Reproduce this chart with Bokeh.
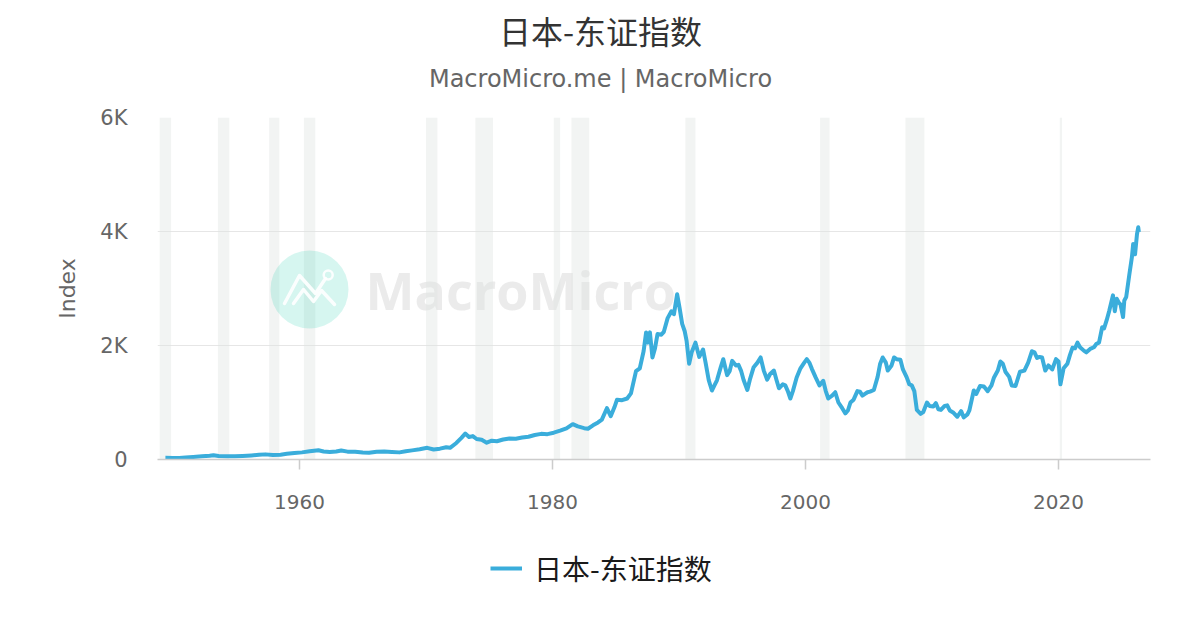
from bokeh.plotting import figure
from bokeh.layouts import column
from bokeh.models import FixedTicker, Label, Legend, LegendItem, Range1d
from bokeh.core.properties import value
from bokeh.embed import file_html
from bokeh.resources import INLINE

# ---------------- data ----------------
TITLE = "日本-东证指数"
SUBTITLE = "MacroMicro.me | MacroMicro"
SERIES_NAME = "日本-东证指数"
Y_AXIS_LABEL = "Index"
WATERMARK = "MacroMicro"

years = [
    1949.4, 1950.0, 1950.5, 1951.0, 1951.6, 1952.3, 1952.9, 1953.2, 1953.6, 1954.3,
    1954.9, 1955.5, 1956.2, 1956.8, 1957.3, 1957.9, 1958.5, 1959.0, 1959.6, 1960.2,
    1960.8, 1961.5, 1961.9, 1962.4, 1962.9, 1963.3, 1963.8, 1964.4, 1965.0, 1965.5,
    1966.1, 1966.7, 1967.3, 1967.9, 1968.4, 1968.9, 1969.5, 1970.1, 1970.6, 1971.1,
    1971.6, 1971.9, 1972.4, 1972.8, 1973.1, 1973.4, 1973.7, 1974.0, 1974.4, 1974.8,
    1975.2, 1975.6, 1976.1, 1976.6, 1977.1, 1977.6, 1978.1, 1978.6, 1979.1, 1979.6,
    1980.1, 1980.6, 1981.1, 1981.6, 1982.0, 1982.5, 1982.8, 1983.2, 1983.6, 1983.9,
    1984.3, 1984.6, 1984.9, 1985.1, 1985.5, 1985.9, 1986.2, 1986.6, 1986.9, 1987.2,
    1987.4, 1987.55, 1987.7, 1987.9, 1988.1, 1988.3, 1988.6, 1988.8, 1989.1, 1989.4,
    1989.6, 1989.85, 1990.05, 1990.25, 1990.45, 1990.6, 1990.8, 1991.0, 1991.3, 1991.6,
    1991.9, 1992.1, 1992.35, 1992.6, 1992.8, 1993.0, 1993.3, 1993.5, 1993.8, 1994.0,
    1994.2, 1994.5, 1994.7, 1994.9, 1995.1, 1995.4, 1995.6, 1995.9, 1996.2, 1996.45,
    1996.7, 1996.97, 1997.2, 1997.5, 1997.7, 1997.9, 1998.2, 1998.4, 1998.6, 1998.8,
    1999.0, 1999.3, 1999.6, 1999.9, 2000.1, 2000.3, 2000.5, 2000.8, 2001.1, 2001.4,
    2001.6, 2001.8, 2002.1, 2002.35, 2002.6, 2002.9, 2003.15, 2003.35, 2003.55, 2003.8,
    2004.1, 2004.3, 2004.5, 2004.7, 2004.9, 2005.1, 2005.4, 2005.7, 2005.9, 2006.1,
    2006.35, 2006.5, 2006.8, 2007.0, 2007.2, 2007.5, 2007.7, 2008.0, 2008.2, 2008.4,
    2008.6, 2008.8, 2009.1, 2009.3, 2009.6, 2009.8, 2010.1, 2010.3, 2010.5, 2010.7,
    2011.0, 2011.2, 2011.4, 2011.7, 2012.0, 2012.3, 2012.5, 2012.8, 2012.95, 2013.3,
    2013.5, 2013.8, 2014.1, 2014.4, 2014.7, 2014.9, 2015.2, 2015.4, 2015.6, 2015.8,
    2016.1, 2016.3, 2016.6, 2016.95, 2017.3, 2017.6, 2017.9, 2018.1, 2018.3, 2018.5,
    2018.7, 2018.95, 2019.2, 2019.5, 2019.8, 2020.0, 2020.15, 2020.4, 2020.7, 2020.9,
    2021.1, 2021.3, 2021.5, 2021.7, 2022.0, 2022.2, 2022.5, 2022.8, 2023.0, 2023.2,
    2023.45, 2023.6, 2023.8, 2024.0, 2024.3, 2024.45, 2024.6, 2024.75, 2024.9, 2025.1,
    2025.2, 2025.35, 2025.6, 2025.8, 2025.9, 2026.05, 2026.2, 2026.3, 2026.35,
]
topix = [
    30, 28, 25, 35, 45, 55, 65, 75, 60, 58,
    55, 62, 72, 82, 90, 78, 85, 100, 112, 125,
    145, 162, 140, 132, 140, 158, 138, 135, 122, 118,
    135, 140, 132, 125, 145, 160, 180, 205, 175, 190,
    215, 205, 290, 380, 455, 395, 410, 360, 345, 295,
    330, 320, 350, 370, 365, 385, 400, 430, 450, 445,
    470, 505, 545, 620, 580, 550, 540, 600, 650, 700,
    900, 760, 920, 1050, 1040, 1070, 1160, 1550, 1600, 1900,
    2230, 2050, 2230, 1790, 1950, 2200, 2190, 2240, 2480, 2600,
    2550, 2900, 2650, 2380, 2250, 2080, 1680, 1880, 2050, 1800,
    1930, 1700, 1390, 1210, 1300, 1390, 1620, 1760, 1480, 1550,
    1730, 1650, 1660, 1560, 1400, 1220, 1400, 1620, 1700, 1790,
    1560, 1400, 1500, 1560, 1400, 1250, 1320, 1300, 1200, 1070,
    1200, 1440, 1600, 1700, 1760, 1700, 1590, 1440, 1300, 1380,
    1200, 1070, 1120, 1180, 1000, 900, 810, 860, 1000, 1050,
    1200, 1190, 1120, 1150, 1180, 1190, 1220, 1450, 1680, 1790,
    1700, 1560, 1650, 1790, 1760, 1750, 1580, 1440, 1320, 1300,
    1200, 870, 800, 830, 1000, 940, 930, 990, 880, 870,
    940, 950, 860, 820, 750, 850, 740, 790, 860, 1210,
    1150, 1290, 1280, 1200, 1300, 1440, 1560, 1720, 1680, 1540,
    1450, 1300, 1290, 1540, 1560, 1700, 1900, 1880, 1780, 1800,
    1790, 1560, 1650, 1580, 1760, 1720, 1320, 1600, 1680, 1830,
    1960, 1950, 2050, 1970, 1910, 1880, 1940, 1970, 2030, 2050,
    2320, 2300, 2440, 2600, 2880, 2600, 2820, 2760, 2720, 2500,
    2790, 2850, 3250, 3550, 3780, 3600, 3950, 4075, 3990,
]

band_start = [1948.95, 1953.55, 1957.6, 1960.35, 1970.0, 1973.9, 1980.1, 1981.5,
              1990.5, 2001.15, 2007.9, 2020.1]
band_end = [1949.85, 1954.45, 1958.4, 1961.25, 1970.9, 1975.3, 1980.6, 1982.9,
            1991.3, 2001.9, 2009.4, 2020.28]

x_ticks = [1960, 1980, 2000, 2020]
y_ticks = [0, 2000, 4000, 6000]
y_tick_labels = ["0", "2K", "4K", "6K"]

# ---------------- layout (page pixels) ----------------
X0, X1 = 1948.775, 2027.27
Y0, Y1 = 0, 6000
FIG_W = 1192
FRAME_L, FRAME_R = 157, 1150
FRAME_T, FRAME_B = 117, 459
MAIN_TOP = 20
HEADER_H = FRAME_T - MAIN_TOP
MAIN_BOTTOM = 60
FRAME_W = FRAME_R - FRAME_L
FRAME_H = FRAME_B - FRAME_T
MAIN_H = MAIN_TOP + FRAME_H + MAIN_BOTTOM
STRIP_TOP = HEADER_H + MAIN_H
LEGEND_H = 622 - STRIP_TOP

LATIN = "DejaVu Sans"
CJK = "Noto Sans CJK SC"
LINE_COLOR = "#3aaddb"


def bare(fig):
    fig.outline_line_color = None
    fig.background_fill_color = "white"
    fig.border_fill_color = "white"
    fig.xgrid.visible = False
    fig.ygrid.visible = False
    return fig


# ---- header with title and subtitle (x in page pixels; frames are aligned in the column) ----
header = bare(figure(width=FIG_W, height=HEADER_H, x_range=Range1d(FRAME_L, FRAME_R),
                     y_range=Range1d(HEADER_H, 0), output_backend="svg",
                     toolbar_location=None, x_axis_location=None, y_axis_location=None,
                     min_border=0))
header.text(x=[600], y=[29], text=[TITLE], text_font=value(CJK), text_font_size="32px",
            text_color="#333333", text_align="center", text_baseline="middle")
header.text(x=[600], y=[78], text=[SUBTITLE], text_font=value(LATIN), text_font_size="24px",
            text_color="#666666", text_align="center", text_baseline="middle")

# ---- main chart ----
p = figure(width=FIG_W, height=MAIN_H, x_range=Range1d(X0, X1), y_range=Range1d(Y0, Y1),
           output_backend="svg", toolbar_location=None, title=None,
           min_border_left=FRAME_L, min_border_right=FIG_W - FRAME_R,
           min_border_top=MAIN_TOP, min_border_bottom=MAIN_BOTTOM)
p.outline_line_color = None
p.background_fill_color = "white"
p.border_fill_color = "white"

p.xgrid.visible = False
p.ygrid.ticker = FixedTicker(ticks=y_ticks)
p.ygrid.grid_line_color = "#e6e6e6"
p.ygrid.grid_line_width = 1

xa = p.xaxis[0]
xa.ticker = FixedTicker(ticks=x_ticks)
xa.axis_line_color = "#cccccc"
xa.axis_line_width = 1.5
xa.major_tick_line_color = "#cccccc"
xa.major_tick_line_width = 1.5
xa.major_tick_out = 10
xa.major_tick_in = 0
xa.minor_tick_line_color = None
xa.major_label_standoff = 25
xa.major_label_text_font = LATIN
xa.major_label_text_font_size = "20px"
xa.major_label_text_color = "#666666"

ya = p.yaxis[0]
ya.ticker = FixedTicker(ticks=y_ticks)
ya.major_label_overrides = {t: l for t, l in zip(y_ticks, y_tick_labels)}
ya.axis_line_color = None
ya.major_tick_line_color = None
ya.minor_tick_line_color = None
ya.major_tick_out = 0
ya.major_tick_in = 0
ya.major_label_standoff = 30
ya.major_label_text_font = LATIN
ya.major_label_text_font_size = "21px"
ya.major_label_text_color = "#666666"
ya.axis_label = Y_AXIS_LABEL
ya.axis_label_text_font = LATIN
ya.axis_label_text_font_size = "22px"
ya.axis_label_text_font_style = "normal"
ya.axis_label_text_color = "#666666"
ya.axis_label_standoff = 17

# recession bands
p.quad(left=band_start, right=band_end, bottom=Y0, top=Y1,
       fill_color="#dfe5e2", fill_alpha=0.42, line_color=None)


# watermark (decoration, placed by page pixel offsets inside the frame)
def fx(px):
    return X0 + (px - FRAME_L) / FRAME_W * (X1 - X0)


def fy(py):
    return Y0 + (FRAME_B - py) / FRAME_H * (Y1 - Y0)


wm = Label(x=365 - FRAME_L, y=FRAME_B - 289, x_units="screen", y_units="screen", text=WATERMARK,
           text_font="Open Sans", text_font_style="bold", text_font_size="52px",
           text_color="#c8c8c8", text_alpha=0.36, text_baseline="middle", text_align="left",
           level="underlay")
p.add_layout(wm)
p.scatter([fx(309)], [fy(289)], size=78, marker="circle", fill_color="#34d1b5",
          fill_alpha=0.2, line_color=None)
p.multi_line(xs=[[fx(284), fx(299), fx(315), fx(325)], [fx(293), fx(303), fx(313), fx(321), fx(334)]],
             ys=[[fy(303), fy(275), fy(293), fy(278)], [fy(303), fy(289), fy(301), fy(290), fy(304)]],
             line_color="white", line_width=3.5, line_alpha=0.9, line_cap="round", line_join="round")
p.scatter([fx(327.7)], [fy(274.5)], size=9, marker="circle", fill_alpha=0,
          line_color="white", line_width=2.5, line_alpha=0.9)

# main series
p.line(years, topix, line_color=LINE_COLOR, line_width=4, line_join="round")

# ---- legend strip ----
leg = bare(figure(width=FIG_W, height=LEGEND_H, x_range=Range1d(0, 1), y_range=Range1d(0, 1),
                  output_backend="svg", toolbar_location=None, x_axis_location=None,
                  y_axis_location=None, min_border=0))
# proxy renderer (kept outside the visible range) that only supplies the legend swatch style
proxy = leg.line(x=[5, 6], y=[5, 6], line_color=LINE_COLOR, line_width=4)
item_centre = 573 - STRIP_TOP
legend = Legend(items=[LegendItem(label=SERIES_NAME, renderers=[proxy])],
                location=(490 - FRAME_L, LEGEND_H - item_centre - 15), orientation="horizontal",
                label_text_font=CJK, label_text_font_size="28px", label_text_color="#1a1a1a",
                glyph_width=32, glyph_height=30, label_height=30, label_standoff=12,
                padding=0, margin=0, border_line_color=None, background_fill_alpha=0)
leg.add_layout(legend, "center")

layout = column(header, p, leg, spacing=0)
open("out.html", "w").write(file_html(layout, INLINE))
